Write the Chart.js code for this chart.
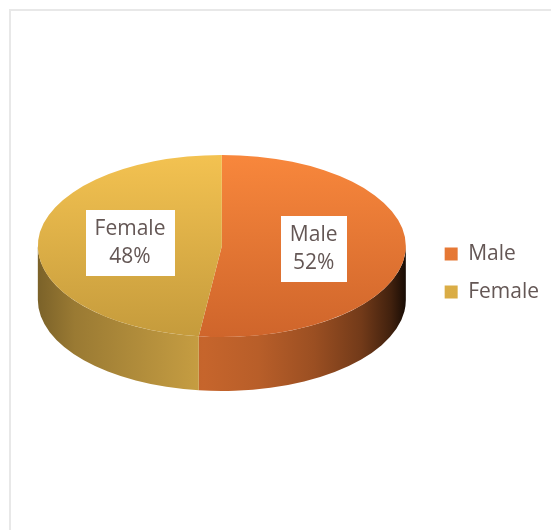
<!DOCTYPE html>
<html>
<head>
<meta charset="utf-8">
<script src="https://cdn.jsdelivr.net/npm/chart.js@4/dist/chart.umd.min.js"></script>
<style>
  html, body { margin: 0; padding: 0; background: #fff; overflow: hidden; }
  #frame { position: absolute; left: 9px; top: 9px; width: 600px; height: 600px; border: 2px solid #e8e8e8; }
  #wrap { position: absolute; left: 0; top: 0; width: 551px; height: 530px; }
</style>
</head>
<body>
<div id="frame"></div>
<div id="wrap"><canvas id="genderChart"></canvas></div>
<script>
const genders = ['Male', 'Female'];
const shares = [52, 48];

// top face gradient (light -> dark) and base colour of the rim, per slice
const topColors = [['#f8873c', '#cf652b'], ['#f3c251', '#c59b3c']];
const sideColors = ['#cc682d', '#cda344'];
const textColor = '#645755';

const TILT = 0.495;   // ry / rx of the top ellipse
const DEPTH = 54;     // thickness of the cylinder in px

// lighting across the rim, left edge -> right edge
const sideShade = [[0, 0.6], [0.1, 0.75], [0.3, 0.88], [0.45, 0.97], [0.6, 0.9],
                   [0.75, 0.76], [0.88, 0.56], [0.96, 0.32], [1, 0.12]];

Chart.defaults.font.family = "'Open Sans', sans-serif";

function shade(hex, f) {
    const n = parseInt(hex.slice(1), 16);
    const r = Math.round(((n >> 16) & 255) * f);
    const g = Math.round(((n >> 8) & 255) * f);
    const b = Math.round((n & 255) * f);
    return `rgb(${r},${g},${b})`;
}

function topFill(context) {
    const i = context.dataIndex;
    const area = context.chart.chartArea;
    if (!area) return topColors[i][0];
    const grad = context.chart.ctx.createLinearGradient(0, area.top, 0, area.bottom);
    grad.addColorStop(0, topColors[i][0]);
    grad.addColorStop(1, topColors[i][1]);
    return grad;
}

// draws the rim, squashes the pie into an ellipse and puts the value boxes on top
const tiltedPie = {
    id: 'tiltedPie',
    beforeDatasetsDraw(chart) {
        const arcs = chart.getDatasetMeta(0).data;
        this.active = arcs.length > 0;
        if (!this.active) return;
        const ctx = chart.ctx;
        const { x, y, outerRadius: r } = arcs[0];
        const rx = r, ry = r * TILT, cy = y - DEPTH / 2;

        arcs.forEach((arc, i) => {
            [[0, Math.PI], [2 * Math.PI, 3 * Math.PI]].forEach(([lo, hi]) => {
                const a1 = Math.max(arc.startAngle, lo);
                const a2 = Math.min(arc.endAngle, hi);
                if (a2 <= a1) return;
                const grad = ctx.createLinearGradient(x - rx, 0, x + rx, 0);
                sideShade.forEach(([t, f]) => grad.addColorStop(t, shade(sideColors[i], f)));
                ctx.beginPath();
                ctx.ellipse(x, cy, rx, ry, 0, a1, a2);
                ctx.lineTo(x + rx * Math.cos(a2), cy + DEPTH + ry * Math.sin(a2));
                ctx.ellipse(x, cy + DEPTH, rx, ry, 0, a2, a1, true);
                ctx.closePath();
                ctx.fillStyle = grad;
                ctx.fill();
            });
        });

        ctx.save();
        ctx.translate(x, cy);
        ctx.scale(1, TILT);
        ctx.translate(-x, -y);
    },
    afterDatasetsDraw(chart) {
        if (!this.active) return;
        const ctx = chart.ctx;
        ctx.restore();

        const arcs = chart.getDatasetMeta(0).data;
        const { x, y, outerRadius: r } = arcs[0];
        const rx = r, ry = r * TILT, cy = y - DEPTH / 2;
        const total = shares.reduce((a, b) => a + b, 0);

        ctx.save();
        ctx.font = "21px 'Open Sans', sans-serif";
        ctx.textAlign = 'center';
        ctx.textBaseline = 'middle';
        arcs.forEach((arc, i) => {
            const mid = (arc.startAngle + arc.endAngle) / 2;
            const lx = x + rx * 0.5 * Math.cos(mid);
            const ly = cy + ry * 0.5 * Math.sin(mid);
            const lines = [genders[i], Math.round(shares[i] / total * 100) + '%'];
            const w = Math.max(...lines.map(s => ctx.measureText(s).width)) + 18;
            const h = 66;
            ctx.fillStyle = '#fff';
            ctx.fillRect(Math.round(lx - w / 2), Math.round(ly - h / 2), Math.round(w), h);
            ctx.fillStyle = textColor;
            ctx.fillText(lines[0], lx, ly - 14);
            ctx.fillText(lines[1], lx, ly + 14);
        });
        ctx.restore();
    }
};

new Chart(document.getElementById('genderChart'), {
    type: 'pie',
    data: {
        labels: genders,
        datasets: [{
            data: shares,
            backgroundColor: topFill,
            borderWidth: 0,
            hoverOffset: 0,
            clip: false
        }]
    },
    options: {
        responsive: true,
        maintainAspectRatio: false,
        animation: false,
        events: [],
        layout: { padding: { left: 16, right: 2, top: 89, bottom: 73 } },
        plugins: {
            legend: {
                position: 'right',
                labels: {
                    boxWidth: 13,
                    boxHeight: 13,
                    padding: 17,
                    color: textColor,
                    font: { size: 21 }
                }
            },
            tooltip: { enabled: false }
        }
    },
    plugins: [tiltedPie]
});
</script>
</body>
</html>
